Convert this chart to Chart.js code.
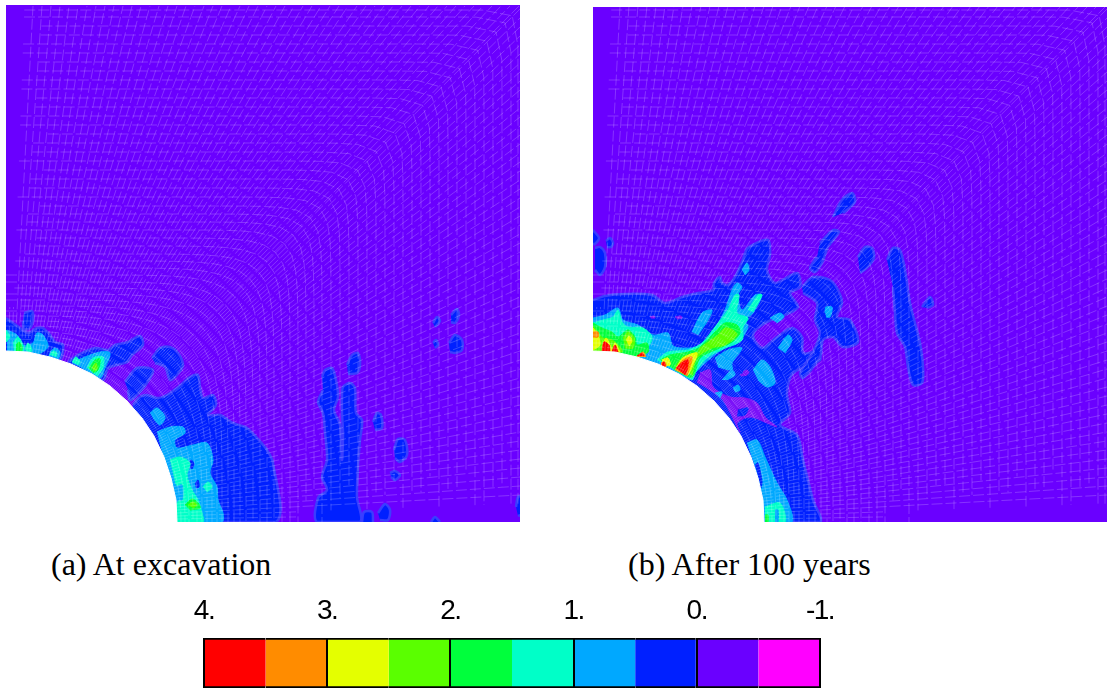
<!DOCTYPE html>
<html><head><meta charset="utf-8">
<script src="https://cdn.jsdelivr.net/npm/chart.js@4/dist/chart.umd.min.js"></script>
<style>
html,body{margin:0;padding:0;background:#fff;width:1110px;height:692px;overflow:hidden}
canvas{position:absolute}
#a{left:6px;top:5px;background:#6a00ff}
#b{left:593px;top:7px;background:#6a00ff}
#c{left:150px;top:600px}
.cap{position:absolute;font-family:"Liberation Serif",serif;font-size:32px;line-height:34px;color:#000;white-space:nowrap}
</style></head><body>
<canvas id="a" width="514" height="517"></canvas>
<canvas id="b" width="514" height="515"></canvas>
<canvas id="c" width="720" height="92"></canvas>
<div class="cap" style="left:51px;top:547px">(a) At excavation</div>
<div class="cap" style="left:628px;top:547px">(b) After 100 years</div>
<script>
// Contour regions: flat x,y lists in model units (tunnel centre at 0,0).
const holeOutline=[0,171,22,170,44,165,65,158,86,148,104,136,121,121,136,104,148,86,158,65,165,44,170,22,171,0,0,0];

const excavationBlue=[
[0,204,7,199,14,194,22,189,31,194,37,194,44,187,49,180,57,177,53,162,27,167,0,170],
[18,209,26,211,27,203,24,194,18,193,17,201],
[62,160,72,167,89,174,102,172,109,177,122,180,134,186,137,177,126,167,121,160,111,157,102,154,97,142,81,149],
[146,164,154,174,164,175,172,169,177,157,171,147,164,142,159,155,149,159],
[119,140,131,154,147,152,141,139,131,127,124,122,122,132],
[127,117,134,125,141,127,151,124,161,127,171,134,184,145,192,147,194,134,197,124,207,127,210,117,202,107,214,107,227,99,241,94,251,84,261,72,267,59,270,0,170,0,120,90],
[316,145,319,152,326,154,330,142,332,125,328,112,334,97,336,62,337,89,336,109,336,125,337,135,344,139,349,134,350,109,356,102,354,82,352,55,351,25,354,0,311,0,312,24,321,32,316,45,321,62,319,89,317,109,312,120,317,132],
[341,157,346,167,352,169,354,157,351,149,342,148],
[367,100,371,109,375,107,376,94,369,92],
[388,72,392,83,399,82,401,67,394,60,389,64],
[384,49,389,51,394,47,389,42,385,45],
[372,9,379,18,384,12,382,2,374,2],
[356,0,358,10,366,10,367,0],
[425,0,429,5,434,0],
[510,15,512,25,516,25,516,8,512,6],
[427,199,431,205,434,201,429,195],
[445,207,451,213,453,207,449,199,445,200],
[427,179,430,182,432,177,429,174],
[443,179,449,187,456,182,456,172,449,169,444,170]
];
const excavationSky=[
[151,90,164,95,177,95,179,89,169,82,171,74,187,77,201,79,207,62,204,49,211,35,212,22,217,9,216,0,171,0,169,22,157,65],
[144,109,151,114,159,105,154,97,147,104],
[1,192,11,187,17,177,27,179,31,189,37,187,42,175,29,167,1,170],
[44,170,49,174,54,170,52,163,42,165],
[66,159,79,165,94,170,104,169,99,154,94,144,76,154]
];
const excavationSpots=[[181,55,185,62,188,58,186,53],[189,38,192,42,193,35,190,34]];
const excavationAqua=[
[164,62,174,65,184,59,181,47,186,32,192,22,196,9,197,0,171,0,171,19,176,25,169,40],
[197,35,202,40,206,35,201,30],
[0,192,4,185,0,180],
[7,179,12,185,17,177,17,170,8,170],
[19,172,22,179,26,172,24,169],
[44,167,47,171,51,169,50,165],
[66,160,70,165,74,160,72,157],
[81,154,87,164,97,165,97,154,91,146]
];
const excavationSkyInner=[[170,35,176,37,176,22,170,25]];
const excavationGreen=[
[179,17,186,23,192,19,194,14,184,12],
[10,177,13,180,16,175,15,170,10,170],
[83,154,89,162,94,163,92,152,87,149]
];
const excavationLime=[[182,17,187,20,191,17,187,14],[86,154,90,159,91,153,88,151]];

const afterBlue=[
[0,292,6,284,2,278,0,278],
[13,281,17,284,20,279,18,275,14,275],
[2,274,7,275,12,269,12,255,7,247,2,252],
[0,222,12,226,32,228,59,227,72,219,89,225,105,229,120,232,121,239,127,245,129,239,135,237,142,245,149,260,155,274,175,282,177,267,174,252,182,239,204,249,207,235,197,229,205,215,192,207,172,199,160,187,169,174,184,185,199,194,209,185,210,169,224,170,227,162,200,149,194,129,197,109,187,97,204,87,210,62,220,22,227,0,172,0,100,100,0,160],
[227,279,240,292,246,290,235,275,229,259,222,250,217,254,224,265],
[209,235,220,245,237,242,245,232,249,219,244,205,257,202,265,180,250,175,240,185,230,182,227,165,210,144,207,149,220,170,227,189,222,202,224,219,210,229],
[240,305,249,322,259,329,262,320,250,309],
[265,265,272,275,279,274,281,264,274,254,267,249],
[294,262,300,274,307,272,312,252,317,219,322,199,327,179,330,155,329,139,320,137,315,155,312,175,304,189,302,209,300,235],
[329,215,337,225,340,217,334,214]
];
const afterPurple=[
[107,149,117,152,120,135,137,125,152,124,164,119,172,105,184,95,174,99,157,105,144,99,147,90,130,122,117,132,104,140],
[147,147,154,150,154,147,148,146],
[82,205,88,206,89,204,84,203],
[57,205,61,206,62,204,58,204],
[150,150,154,152,156,149,151,147]
];
const afterBlueSpots=[[145,112,155,114,152,107,144,106]];
const afterSky=[
[0,204,12,207,25,214,30,202,45,197,60,187,75,189,80,176,97,174,107,177,119,189,132,212,139,232,144,239,149,235,145,227,149,212,162,227,169,227,160,209,152,202,155,195,145,179,132,174,119,165,102,149,99,142,59,159,0,170],
[149,252,154,259,156,252,152,247],
[99,190,109,209,119,212,115,202,105,187],
[177,204,187,209,191,205,184,199],
[232,214,239,215,237,205,233,205],
[185,174,195,187,199,182,192,169],
[160,152,169,162,177,155,182,139,174,135,165,142],
[122,164,135,172,149,174,139,159,139,152,125,155],
[129,142,139,152,142,147,134,142],
[122,129,129,130,127,124],
[140,134,145,137,147,132,142,130],
[232,209,233,215,239,214,235,205],
[154,79,164,82,172,65,184,39,194,22,199,0,172,0,169,29,162,55]
];
const afterBlueInner=[[162,57,165,59,169,40,168,34]];
const afterAqua=[
[0,199,10,202,20,205,25,212,29,200,35,195,50,194,59,185,55,175,45,170,25,172,0,172],
[64,162,75,170,95,172,109,179,122,195,135,212,142,227,146,227,144,209,155,204,150,195,149,182,132,174,115,165,104,152,99,142],
[155,212,165,227,169,227,160,210],
[172,15,187,19,192,0,172,0]
];
const afterSkyInner=[[182,12,185,12,185,0,182,0]];
const afterGreen=[
[0,199,9,194,19,190,25,185,35,192,42,185,44,177,54,179,55,170,42,165,0,170],
[67,162,77,167,95,170,107,175,122,190,132,199,144,197,147,189,139,180,122,172,107,164,99,145,82,152],
[172,7,175,7,175,0,172,0]
];
const afterLime=[
[0,196,7,187,10,184,19,182,27,175,29,170,0,170],
[30,184,35,190,41,184,40,174,32,174],
[82,155,90,165,105,170,107,174,125,187,132,194,140,192,144,187,132,177,119,174,104,164,99,147]
];
const afterYellow=[
[33,182,36,186,39,181,36,176],
[0,194,5,187,7,177,0,172],
[9,175,13,184,17,177,19,170,9,170],
[19,170,22,179,27,170],
[84,155,90,164,104,169,99,155,95,147],
[69,162,75,164,77,157,69,157]
];
const afterOrange=[
[0,190,5,190,5,185,0,185],
[82,152,90,162,99,165,96,152,94,146],
[68,159,72,160,73,155,68,155],
[44,165,50,170,53,165]
];
const afterRed=[
[9,170,11,180,16,177,17,170],
[19,170,22,177,25,170],
[44,166,49,169,51,166],
[83,154,90,160,95,162,94,152,92,147],
[69,159,71,160,72,156,69,156]
];

// Finite-element mesh: ring radii at the left edge and spoke positions along the outer edges.
const meshRings=[175,179,183,187,191,196,201,206,211,216,222,228,234,240,247,254,261,268,276,284,292,300,308,316,325,334,343,352,361,370,379,388,397,406,415,424,433,442,451,460,469,478,487,496,505,512];
const meshSpokes=[9,18,27,36,45,54,63,72,81,90,99,108,117,126,135,144,153,162,171,180,189,198,207,216,225,234,243,252,261,270,279,288,297,306,315,324,333,342,351,360,369,378,387,396,405,414,423,432,441,450,459,468,477,486,495,504,513];

// Colour scale
const legendEdges=[4,3.5,3,2.5,2,1.5,1,0.5,0,-0.5,-1];
const legendColors=['#ff0000','#ff8c00','#e4ff00','#5aff00','#00ff3c','#00ffc8','#00a8ff','#0020ff','#6a00ff','#ff00ff'];
const legendTicks={'4':'4.','3':'3.','2':'2.','1':'1.','0':'0.','-1':'-1.'};

const RED='#ff0000',ORANGE='#ff8c00',YELLOW='#e4ff00',LIME='#5aff00',GREEN='#00ff3c',AQUA='#00ffc8',SKY='#00a8ff',BLUE='#0020ff';

function toPoints(flat){const p=[];for(let i=0;i<flat.length;i+=2)p.push({x:flat[i],y:flat[i+1]});return p;}
function polygons(list,color,edge,width){
  return list.map(flat=>({type:'scatter',showLine:true,data:toPoints(flat),fill:'shape',backgroundColor:color,
    borderColor:edge||color,borderWidth:width===undefined?1:width,tension:0.3,pointRadius:0}));
}
function meshPoints(){
  const pts=[],gap={x:NaN,y:NaN};
  meshRings.forEach((rho,idx)=>{
    const t=(rho-171)/345,p=2+60*Math.pow(t,1.5);
    const xCut=6+(idx%4)*8,yTop=215+(idx%3)*25,yCut=8+(idx%4)*9,xRight=280+(idx%3)*25;
    for(let i=0;i<=44;i++){
      const a=i/44*Math.PI/2,s=Math.sin(a),c=Math.cos(a);
      const r=rho/Math.pow(Math.pow(c,p)+Math.pow(s,p),1/p);
      const x=r*s,y=r*c;
      if((x<xCut&&y>yTop)||(y<yCut&&x>xRight)){pts.push(gap);continue;}
      pts.push({x:x,y:y});
    }
    pts.push(gap);
  });
  meshSpokes.forEach(e=>{
    const len=Math.hypot(e,516);
    if(e>=27){pts.push({x:e/len*171,y:516/len*171},{x:e,y:516},gap);}
    else{pts.push({x:e/len*171,y:516/len*171},{x:e/516*215,y:215},gap);}
    const len2=Math.hypot(514,e);
    if(e>=27)pts.push({x:514/len2*171,y:e/len2*171},{x:514,y:e},gap);
    else pts.push({x:514/len2*171,y:e/len2*171},{x:290,y:e*290/514},gap);
  });
  return pts;
}
function panel(id,layers,ymax){
  const sets=[].concat(...layers);
  sets.push({type:'scatter',showLine:true,data:meshPoints(),borderColor:'rgba(255,255,255,0.2)',borderWidth:1,borderDash:[11,3],fill:false,pointRadius:0,spanGaps:false});
  sets.push({type:'scatter',showLine:true,data:toPoints(holeOutline),fill:'shape',backgroundColor:'#fff',borderColor:'#fff',borderWidth:1,pointRadius:0});
  sets.forEach((d,i)=>{d.order=sets.length-i;});
  new Chart(document.getElementById(id),{type:'scatter',data:{datasets:sets},options:{
    responsive:false,animation:false,events:[],layout:{padding:0},
    plugins:{legend:{display:false},tooltip:{enabled:false},title:{display:false}},
    scales:{x:{type:'linear',min:0,max:514,display:false},y:{type:'linear',min:0,max:ymax,display:false}}
  }});
}
const HALO='rgba(58,64,255,0.95)';
panel('a',[
  polygons(excavationBlue,BLUE,HALO,2.5),polygons(excavationSky,SKY),polygons(excavationSpots,BLUE),
  polygons(excavationAqua,AQUA),polygons(excavationSkyInner,SKY),polygons(excavationGreen,GREEN),polygons(excavationLime,LIME)
],517);
panel('b',[
  polygons(afterBlue,BLUE,HALO,2.5),polygons(afterPurple,'#7a10f8'),polygons(afterBlueSpots,BLUE),polygons(afterSky,SKY),
  polygons(afterBlueInner,BLUE),polygons(afterAqua,AQUA),polygons(afterSkyInner,SKY),polygons(afterGreen,GREEN),
  polygons(afterLime,LIME),polygons(afterYellow,YELLOW),polygons(afterOrange,ORANGE),polygons(afterRed,RED)
],515);

const tightLabels={id:'tightLabels',beforeDraw(chart){chart.ctx.letterSpacing='-1.5px';}};
new Chart(document.getElementById('c'),{type:'bar',plugins:[tightLabels],
  data:{labels:['scale'],datasets:legendColors.map((col,i)=>({data:[[legendEdges[i],legendEdges[i+1]]],backgroundColor:col,
    borderColor:'#000',borderWidth:{top:2,bottom:2,left:0,right:0},borderSkipped:false,grouped:false,barPercentage:1,categoryPercentage:1}))},
  options:{indexAxis:'y',responsive:false,animation:false,events:[],
    layout:{padding:{left:54,right:50,bottom:4,top:0}},
    plugins:{legend:{display:false},tooltip:{enabled:false}},
    scales:{
      y:{display:false},
      x:{type:'linear',position:'top',reverse:true,min:-1,max:4,
        afterFit:s=>{s.height=38;},
        grid:{color:'#000',lineWidth:2,z:1,drawTicks:false},border:{display:false},
        ticks:{stepSize:1,autoSkip:false,maxRotation:0,padding:10,color:'#000',
          font:{family:'"Liberation Sans",Arial,sans-serif',size:28},
          callback:v=>legendTicks[String(v)]}}
    }}
});
</script>
</body></html>
